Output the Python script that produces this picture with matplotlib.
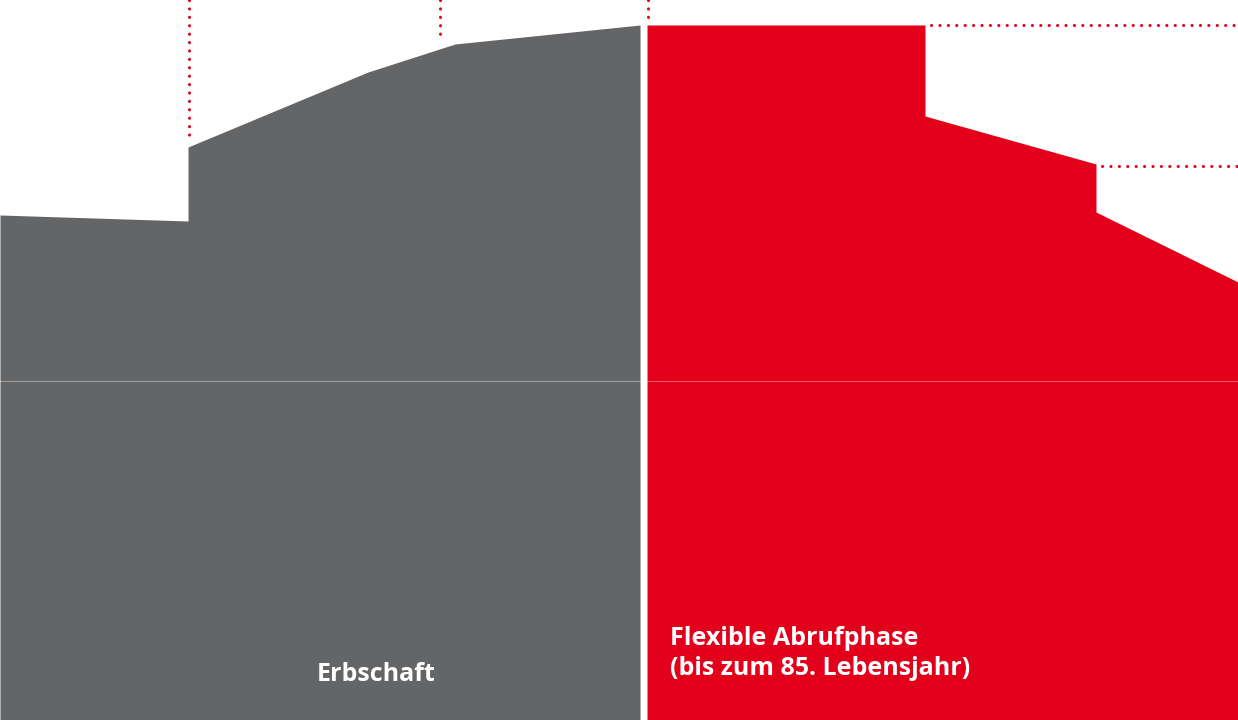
import numpy as np
import matplotlib
matplotlib.use("Agg")
from matplotlib import pyplot as plt

# outline of the two areas (x position, height above the bottom edge)
gray_x = [0, 188, 188, 368, 455, 640]
gray_y = [505, 499, 573, 648, 676, 695]
red_x = [647, 925, 925, 1096, 1096, 1238]
red_y = [695, 695, 604, 556, 508, 438]

# dotted guide lines
vguide_x = [189, 440, 648]
hguide_y = [695, 554]
hguide_x0 = [931, 1102]

mid_line = 339
labels = ["Erbschaft", "Flexible Abrufphase\n(bis zum 85. Lebensjahr)"]

GRAY = "#646567"
RED = "#e2001a"
W, H = 1238, 720

fig = plt.figure(figsize=(W / 100, H / 100), dpi=100)
ax = fig.add_axes([0, 0, 1, 1])
ax.set_xlim(0, W)
ax.set_ylim(0, H)
ax.axis("off")

ax.fill_between(gray_x, 0, gray_y, color=GRAY, linewidth=0)
ax.fill_between(red_x, 0, red_y, color=RED, linewidth=0)

# thin light line across the middle
ax.plot([gray_x[0], gray_x[-1]], [mid_line, mid_line], color="white", alpha=0.35, lw=0.8)
ax.plot([red_x[0], red_x[-1]], [mid_line, mid_line], color="white", alpha=0.35, lw=0.8)

dot = dict(color=RED, lw=2.2, linestyle=(0, (0.05, 2.7)), dash_capstyle="round")
all_x = gray_x + red_x
all_y = gray_y + red_y
for x in vguide_x:
    # the first guide sits on the step, so use the upper side of it
    top = gray_y[2] if x == vguide_x[0] else np.interp(x, all_x, all_y)
    ax.plot([x, x], [H, top + 7], **dot)
for y, x0 in zip(hguide_y, hguide_x0):
    ax.plot([x0, W], [y, y], **dot)

font = ["Open Sans", "DejaVu Sans"]
ax.text(376, 39, labels[0], color="white", fontsize=18, fontweight="bold",
        family=font, ha="center", va="baseline")
ax.text(670, 45, labels[1], color="white", fontsize=18, fontweight="bold",
        family=font, ha="left", va="baseline", linespacing=1.28)

fig.savefig("out.png", dpi=100)
